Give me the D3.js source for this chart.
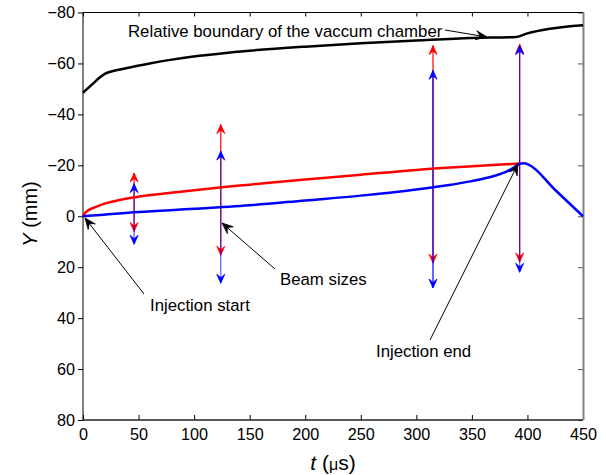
<!DOCTYPE html>
<html>
<head>
<meta charset="utf-8">
<script src="https://cdn.jsdelivr.net/npm/d3@7"></script>
<style>
  html, body { margin: 0; padding: 0; background: #fff; }
  svg { display: block; font-family: "Liberation Sans", Arial, Helvetica, sans-serif; }
</style>
</head>
<body>
<svg id="chart" width="606" height="475"></svg>
<script>
// Relative boundary of the vacuum chamber (t in µs, Y in mm)
const boundaryT = [0, 5, 10, 15, 20, 30, 45, 60, 80, 105, 150, 200, 250, 300, 350, 390, 400, 420, 450];
const boundaryY = [-48.5, -50.5, -52.5, -54.5, -56, -57.3, -58.7, -60, -61.5, -63, -65, -66.6, -67.9, -69, -70, -70.4, -71.8, -73.6, -75];

// Beam centroid traces
const redT = [0, 2, 5, 10, 15, 25, 47, 75, 100, 125, 150, 200, 250, 300, 350, 393];
const redY = [0, -1.4, -2.4, -3.4, -4.3, -5.6, -7.5, -9, -10.2, -11.4, -12.4, -14.4, -16.3, -18.2, -19.6, -20.7];
const blueT = [0, 50, 100, 150, 200, 250, 300, 325, 350, 370, 380, 388, 393, 397, 401, 425, 450];
const blueY = [0, -1.7, -2.9, -4.3, -6.2, -8.1, -10.5, -12, -13.8, -15.8, -17.3, -19.2, -20.6, -20.8, -20.3, -10.3, 0];

// Beam-size double arrows
const sizeT = [46, 124, 315, 393];
const redTop = [-17, -36, -67, -67.5];
const redBottom = [6, 15.3, 18.4, 18];
const blueTop = [-12.8, -25.6, -57.3, -67];
const blueBottom = [11, 26.3, 28.2, 22];

// Axis ticks
const xTicks = [0, 50, 100, 150, 200, 250, 300, 350, 400, 450];
const yTicks = [-80, -60, -40, -20, 0, 20, 40, 60, 80];

const svg = d3.select("#chart");
const x = d3.scaleLinear().domain([0, 450]).range([83, 583]);
const y = d3.scaleLinear().domain([-80, 80]).range([12.5, 420]);

// Axes
const gl = svg.append("g").attr("transform", `translate(${x(0)},0)`)
  .call(d3.axisLeft(y).tickValues(yTicks).tickSize(5).tickPadding(3));
const gb = svg.append("g").attr("transform", `translate(0,${y(80)})`)
  .call(d3.axisBottom(x).tickValues(xTicks).tickSizeInner(-5).tickSizeOuter(0).tickPadding(8));
const gt = svg.append("g").attr("transform", `translate(0,${y(-80)})`)
  .call(d3.axisTop(x).tickValues(xTicks).tickSizeInner(-4).tickSizeOuter(0).tickFormat(""));
const gr = svg.append("g").attr("transform", `translate(${x(450)},0)`)
  .call(d3.axisRight(y).tickValues(yTicks).tickSizeInner(-5).tickSizeOuter(0).tickFormat(""));
[gl, gb, gt, gr].forEach(g => {
  g.select(".domain").remove();
  g.selectAll("text").attr("font-size", 16.2).attr("fill", "#000")
    .attr("font-family", "'Liberation Sans', Arial, sans-serif");
  g.selectAll("line").attr("stroke", "#000");
});
gr.selectAll("line").attr("stroke", "#555");

// Frame
svg.append("line").attr("x1", x(0)).attr("x2", x(0)).attr("y1", y(-80)).attr("y2", y(80)).attr("stroke", "#000");
svg.append("line").attr("x1", x(0)).attr("x2", x(450)).attr("y1", y(-80)).attr("y2", y(-80)).attr("stroke", "#000");
svg.append("line").attr("x1", x(0)).attr("x2", x(450)).attr("y1", y(80)).attr("y2", y(80)).attr("stroke", "#222").attr("stroke-width", 1.3);
svg.append("line").attr("x1", x(450) + 0.5).attr("x2", x(450) + 0.5).attr("y1", y(-80)).attr("y2", y(80)).attr("stroke", "#808080").attr("stroke-width", 2);

// Curves
const line = d3.line().curve(d3.curveMonotoneX).x(d => x(d[0])).y(d => y(d[1]));
const zip = (a, b) => a.map((v, i) => [v, b[i]]);

svg.append("path").datum(zip(boundaryT, boundaryY)).attr("d", line)
  .attr("fill", "none").attr("stroke", "#000").attr("stroke-width", 2.5);

// Arrowhead glyph pointing in direction (dirX, dirY)
function head(g, tipX, tipY, dirX, dirY, len, half, color) {
  const n = Math.hypot(dirX, dirY), ux = dirX / n, uy = dirY / n;
  const px = -uy, py = ux;
  const bx = tipX - ux * len, by = tipY - uy * len;
  const nx = tipX - ux * len * 0.62, ny = tipY - uy * len * 0.62;
  g.append("path")
    .attr("d", `M${tipX},${tipY}L${bx + px * half},${by + py * half}L${nx},${ny}L${bx - px * half},${by - py * half}Z`)
    .attr("fill", color).attr("stroke", color).attr("stroke-width", 0.8).attr("stroke-linejoin", "miter");
}

// Beam-size arrows
const arrows = svg.append("g");
sizeT.forEach((t, i) => {
  const xx = x(t);
  arrows.append("line").attr("x1", xx).attr("x2", xx)
    .attr("y1", y(redTop[i])).attr("y2", y(redBottom[i])).attr("stroke", "#f00").attr("stroke-width", 1.2);
  head(arrows, xx, y(redTop[i]), 0, -1, 9, 4, "#f00");
  head(arrows, xx, y(redBottom[i]), 0, 1, 9, 4, "#f00");
});
sizeT.forEach((t, i) => {
  const xx = x(t);
  arrows.append("line").attr("x1", xx).attr("x2", xx)
    .attr("y1", y(blueTop[i])).attr("y2", y(blueBottom[i])).attr("stroke", "#00f")
    .attr("stroke-width", 1.2).attr("stroke-opacity", i === 2 ? 1 : 0.65);
  head(arrows, xx, y(blueTop[i]), 0, -1, 9, 4, "#00f");
  head(arrows, xx, y(blueBottom[i]), 0, 1, 9, 4, "#00f");
});

svg.append("path").datum(zip(redT, redY)).attr("d", line)
  .attr("fill", "none").attr("stroke", "#f00").attr("stroke-width", 2.5);
svg.append("path").datum(zip(blueT, blueY)).attr("d", line)
  .attr("fill", "none").attr("stroke", "#00f").attr("stroke-width", 2.5).attr("stroke-linejoin", "round");

// Annotations
const notes = [
  { text: "Relative boundary of the vaccum chamber", tx: 128, ty: 37, x1: 445, y1: 30, x2: 487, y2: 37 },
  { text: "Beam sizes", tx: 280, ty: 285, x1: 275, y1: 269, x2: 222, y2: 223 },
  { text: "Injection start", tx: 150, ty: 311, x1: 144, y1: 294, x2: 85, y2: 218 },
  { text: "Injection end", tx: 376, ty: 357, x1: 430, y1: 340, x2: 518, y2: 164 }
];
const ann = svg.append("g");
notes.forEach(n => {
  ann.append("line").attr("x1", n.x1).attr("y1", n.y1).attr("x2", n.x2).attr("y2", n.y2)
    .attr("stroke", "#000").attr("stroke-width", 1);
  head(ann, n.x2, n.y2, n.x2 - n.x1, n.y2 - n.y1, 11, 4.5, "#000");
  ann.append("text").attr("x", n.tx).attr("y", n.ty).attr("font-size", 16.8).attr("fill", "#000").text(n.text);
});

// Axis titles
const yt = svg.append("text").attr("transform", "translate(37,214) rotate(-90)")
  .attr("text-anchor", "middle").attr("font-size", 20).attr("fill", "#000");
yt.append("tspan").attr("font-style", "italic").text("Y");
yt.append("tspan").text(" (mm)");

const xt = svg.append("text").attr("x", 333).attr("y", 470)
  .attr("text-anchor", "middle").attr("font-size", 21).attr("fill", "#000");
xt.append("tspan").attr("font-style", "italic").text("t");
xt.append("tspan").text(" (");
xt.append("tspan").attr("font-size", 16).text("μ");
xt.append("tspan").text("s)");
</script>
</body>
</html>
